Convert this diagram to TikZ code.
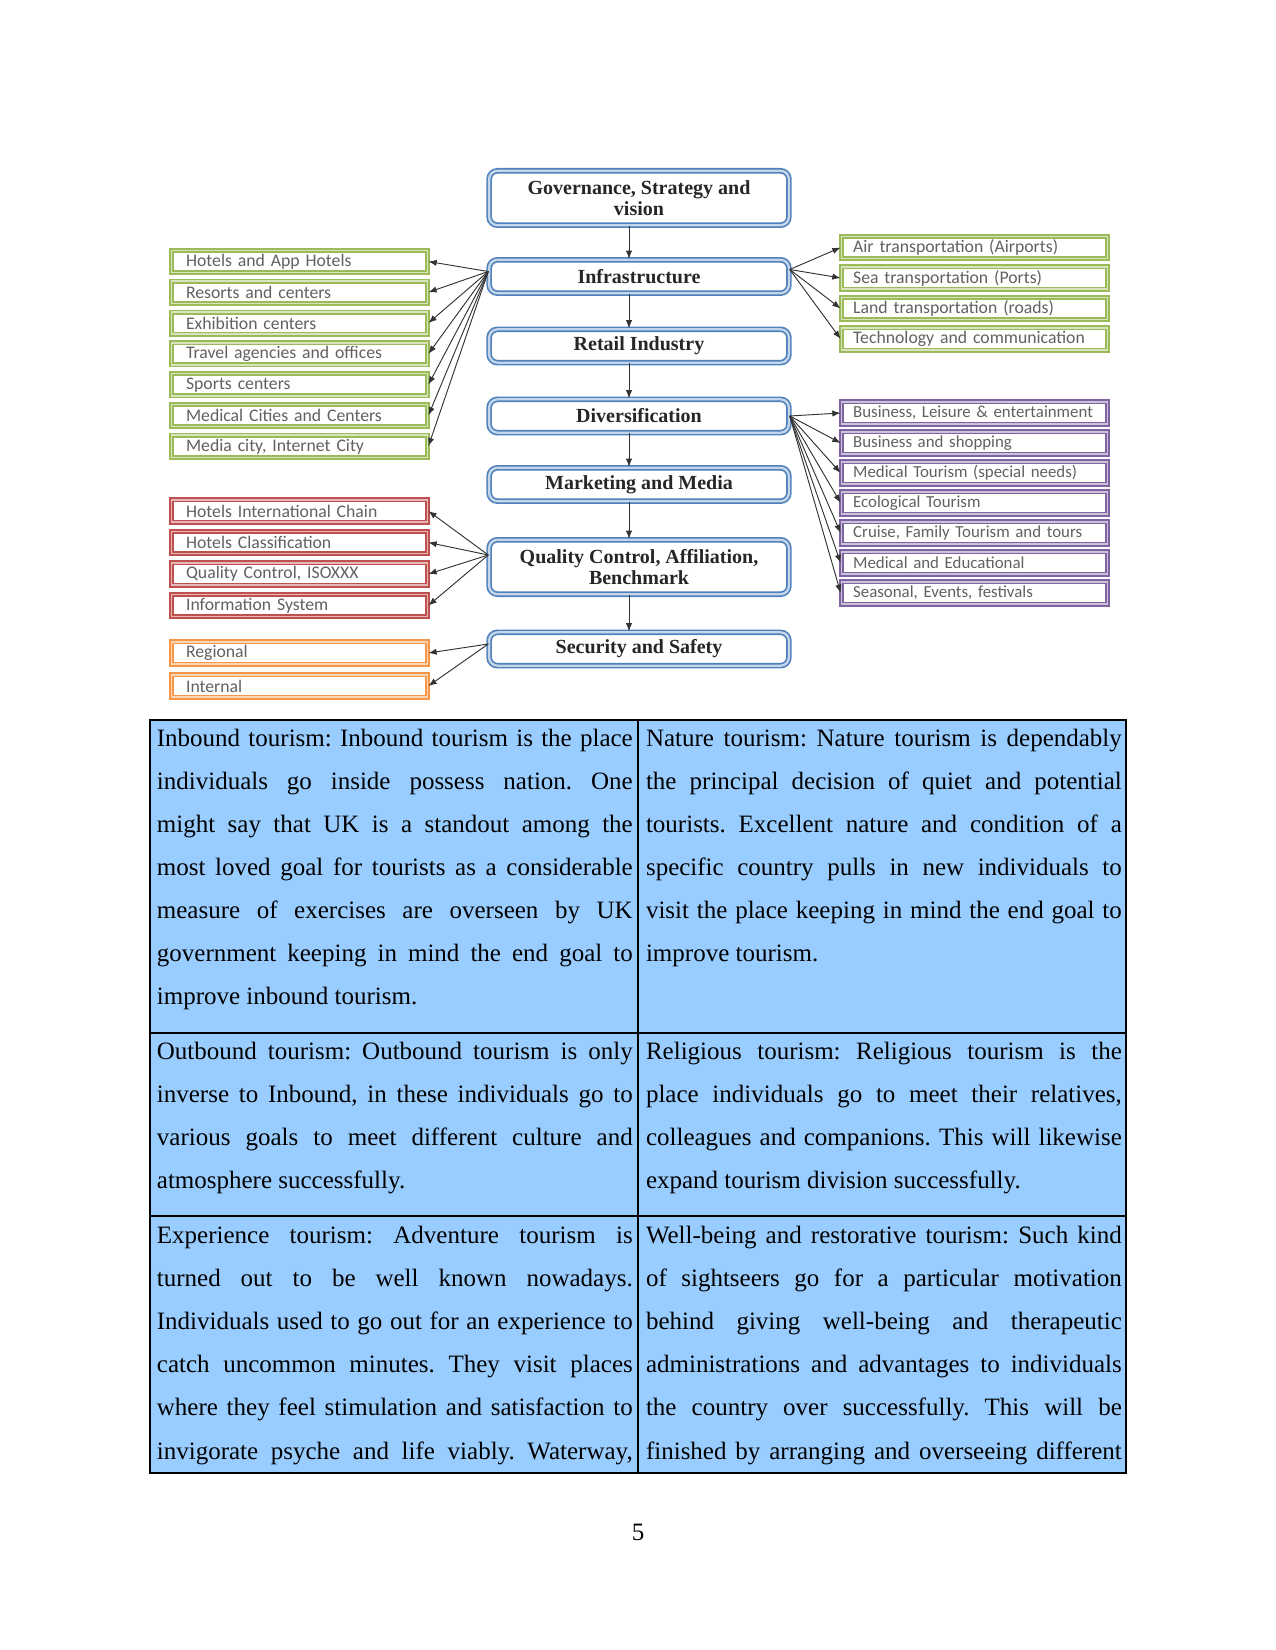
\documentclass[tikz,border=0pt]{standalone}
\usepackage{fontspec}
\setmainfont{Liberation Serif}
\newfontfamily\listfont{Carlito}
\usetikzlibrary{arrows.meta, positioning, calc}

\definecolor{hubblue}{HTML}{4F81BD}
\definecolor{hubblueL}{HTML}{C5D5EA}
\definecolor{infragreen}{HTML}{9BBB59}
\definecolor{infragreenL}{HTML}{D7E4BD}
\definecolor{qcred}{HTML}{C0504D}
\definecolor{qcredL}{HTML}{E6B9B8}
\definecolor{secorange}{HTML}{F79646}
\definecolor{secorangeL}{HTML}{FCD5B5}
\definecolor{divpurple}{HTML}{8064A2}
\definecolor{divpurpleL}{HTML}{CCC1DA}
\definecolor{cellblue}{HTML}{99CCFF}

\hyphenpenalty=10000
\exhyphenpenalty=10000
\frenchspacing

\tikzset{
  hub/.style={draw=hubblue, double=hubblueL, line width=0.8pt, double distance=1.1pt,
    rounded corners=4pt, fill=white, minimum width=143.9pt, minimum height=16pt,
    align=center, font=\fontsize{9.6}{10}\selectfont\bfseries, text=black!85},
  hubtall/.style={hub, minimum height=26.1pt},
  item/.style={line width=0.8pt, double distance=0.8pt, fill=white,
    text width=108.9pt, align=left, inner xsep=7pt, inner ysep=1pt, minimum height=10.6pt,
    font=\listfont\fontsize{8.5}{10}\selectfont, text=black!62},
  wideitem/.style={item, text width=116.5pt, inner xsep=5.6pt},
  greenitem/.style={item, draw=infragreen, double=infragreenL},
  reditem/.style={item, draw=qcred, double=qcredL},
  orangeitem/.style={item, draw=secorange, double=secorangeL},
  greenright/.style={wideitem, draw=infragreen, double=infragreenL},
  purpleitem/.style={wideitem, draw=divpurple, double=divpurpleL,
    font=\listfont\fontsize{8.1}{10}\selectfont},
  link/.style={-{Latex[length=4pt,width=3pt]}, line width=0.45pt, black!80},
  cell/.style={anchor=base west, text width=228.4pt, inner sep=0pt, align=justify,
    font=\fontsize{12}{20.7}\selectfont}
}

\begin{document}
\begin{tikzpicture}[x=0.48pt, y=-0.48pt]
    \useasboundingbox (0,0) rectangle (1275,1650);

    % central column
    \node[hubtall] (gov)    at (639,198)   {Governance, Strategy and\\vision};
    \node[hub]     (infra)  at (639,276.5) {Infrastructure};
    \node[hub]     (retail) at (639,346)   {Retail Industry};
    \node[hub]     (div)    at (639,416)   {Diversification};
    \node[hub]     (mkt)    at (639,484.5) {Marketing and Media};
    \node[hubtall] (qc)     at (639,567)   {Quality Control, Affiliation,\\Benchmark};
    \node[hub]     (sec)    at (639,649)   {Security and Safety};

    \foreach \a/\b in {gov/infra, infra/retail, retail/div, div/mkt, mkt/qc, qc/sec}
        \draw[link] ([xshift=-4.8pt]\a.south) -- ([xshift=-4.8pt]\b.north);

    % infrastructure, left
    \foreach \t [count=\i] in {Hotels and App Hotels, Resorts and centers, Exhibition centers,
        Travel agencies and offices, Sports centers, Medical Cities and Centers,
        {Media city, Internet City}}
        \node[greenitem] (hotel\i) at (299.5,{261.5+30.8*(\i-1)}) {\t};

    % infrastructure, right
    \foreach \t [count=\i] in {Air transportation (Airports), Sea transportation (Ports),
        Land transportation (roads), Technology and communication}
        \node[greenright] (trans\i) at (974.5,{247.5+30.5*(\i-1)}) {\t};

    % diversification
    \foreach \t [count=\i] in {{Business, Leisure \& entertainment}, Business and shopping,
        Medical Tourism (special needs), Ecological Tourism, {Cruise, Family Tourism and tours},
        Medical and Educational, {Seasonal, Events, festivals}}
        \node[purpleitem] (kind\i) at (974.5,{413+30*(\i-1)}) {\t};

    % quality control
    \foreach \t [count=\i] in {Hotels International Chain, Hotels Classification,
        {Quality Control, ISOXXX}, Information System}
        \node[reditem] (qual\i) at (299.5,{511+31.5*(\i-1)}) {\t};

    % security
    \node[orangeitem] (safe1) at (299.5,653) {Regional};
    \node[orangeitem] (safe2) at (299.5,686) {Internal};

    \coordinate (infraL) at ($(infra.west)+(0,-5)$);
    \coordinate (infraR) at ($(infra.east)+(0,-7)$);
    \coordinate (qcL) at ($(qc.west)+(0,-12)$);
    \coordinate (secL) at ($(sec.west)+(0,-5)$);

    \foreach \i in {1,...,7}
        \draw[link] (infraL) -- (hotel\i.east);
    \foreach \i in {1,...,4}
        \draw[link] (infraR) -- (trans\i.west);
    \foreach \i in {1,...,7}
        \draw[link] (div.east) -- (kind\i.west);
    \foreach \i in {1,...,4}
        \draw[link] (qcL) -- (qual\i.east);
    \foreach \i in {1,2}
        \draw[link] (secL) -- (safe\i.east);

    % table
    \fill[cellblue] (150,720) rectangle (1126,1473);
    \draw[line width=0.5pt] (150,720) rectangle (1126,1473);
    \draw[line width=0.5pt] (638,720) -- (638,1473);
    \draw[line width=0.5pt] (150,1033) -- (1126,1033);
    \draw[line width=0.5pt] (150,1216) -- (1126,1216);

    \node[cell] (inbound) at (156.5,746) {Inbound tourism: Inbound tourism is the place\linebreak
        individuals go inside possess nation. One\linebreak
        might say that UK is a standout among the\linebreak
        most loved goal for tourists as a considerable\linebreak
        measure of exercises are overseen by UK\linebreak
        government keeping in mind the end goal to\linebreak
        improve inbound tourism.};
    \node[cell] (nature) at (645.6,746) {Nature tourism: Nature tourism is dependably\linebreak
        the principal decision of quiet and potential\linebreak
        tourists. Excellent nature and condition of a\linebreak
        specific country pulls in new individuals to\linebreak
        visit the place keeping in mind the end goal to\linebreak
        improve tourism.};
    \node[cell] (outbound) at (156.5,1059.4) {Outbound tourism: Outbound tourism is only\linebreak
        inverse to Inbound, in these individuals go to\linebreak
        various goals to meet different culture and\linebreak
        atmosphere successfully.};
    \node[cell] (religious) at (645.6,1059.4) {Religious tourism: Religious tourism is the\linebreak
        place individuals go to meet their relatives,\linebreak
        colleagues and companions. This will likewise\linebreak
        expand tourism division successfully.};
    \node[cell] (experience) at (156.5,1243.4) {Experience tourism: Adventure tourism is\linebreak
        turned out to be well known nowadays.\linebreak
        Individuals used to go out for an experience to\linebreak
        catch uncommon minutes. They visit places\linebreak
        where they feel stimulation and satisfaction to\linebreak
        invigorate psyche and life viably. Waterway,\linebreak};
    \node[cell] (wellbeing) at (645.6,1243.4) {Well-being and restorative tourism: Such kind\linebreak
        of sightseers go for a particular motivation\linebreak
        behind giving well-being and therapeutic\linebreak
        administrations and advantages to individuals\linebreak
        the country over successfully. This will be\linebreak
        finished by arranging and overseeing different\linebreak};

    \node[font=\fontsize{12}{14}\selectfont] (pagenum) at (638,1532) {5};
\end{tikzpicture}
\end{document}
